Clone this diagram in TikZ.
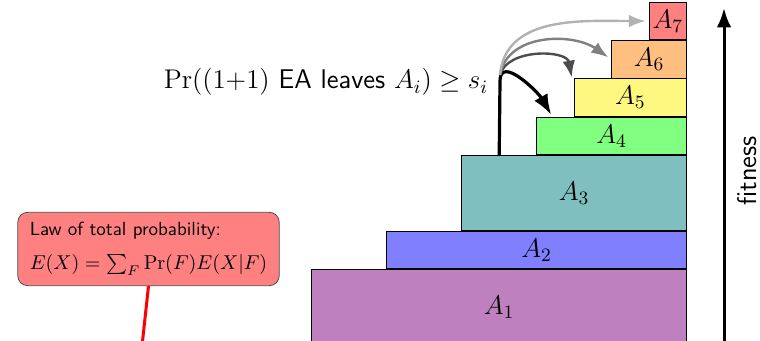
\RequirePackage{fix-cm}
\documentclass[tikz,border=0pt]{standalone}
\usepackage{tikz}
\usetikzlibrary{arrows.meta,positioning,calc}

\newcommand{\bigfont}{\fontsize{13.5}{16}\selectfont}

\begin{document}
\begin{tikzpicture}[
x=0.5pt, y=0.5pt,
level/.style={draw, anchor=south east, inner sep=0pt, font=\bigfont, minimum height=18.75pt},
leave/.style={-{Latex}, line width=1.2pt},
fitarr/.style={-{Latex}, line width=1.5pt},
note/.style={draw=black!70, fill=red!50, rounded corners=5pt, align=left, inner xsep=6pt, inner ysep=5pt}
]
\useasboundingbox (0,0) rectangle (760,341);
\clip (0,0) rectangle (760,341);

% fitness levels
\node[level, fill=violet!50, minimum width=187.5pt, minimum height=37.5pt] (A1) at (687,-4) {$A_1$};
\node[level, fill=blue!50, minimum width=150pt] (A2) at (A1.north east) {$A_2$};
\node[level, fill=teal!50, minimum width=112.5pt, minimum height=37.5pt] (A3) at (A2.north east) {$A_3$};
\node[level, fill=green!50, minimum width=75pt] (A4) at (A3.north east) {$A_4$};
\node[level, fill=yellow!50, minimum width=56.25pt] (A5) at (A4.north east) {$A_5$};
\node[level, fill=orange!50, minimum width=37.5pt] (A6) at (A5.north east) {$A_6$};
\node[level, fill=red!50, minimum width=18.75pt] (A7) at (A6.north east) {$A_7$};

% leaving A_i
\coordinate (base) at ($(A3.north west)+(38,0)$);
\coordinate (src) at (500,266);
\node[anchor=base east, font=\bigfont] (lbl) at (495,252) {$\Pr((1{+}1)$ \textsf{EA leaves} $A_i) \geq s_i$};
\draw[leave, line width=1.6pt] (base) -- (500,260) to[out=90, in=120, looseness=1.1] ($(A4.north west)+(15,2)$);
\draw[leave, black!70] (src) to[out=75, in=100] ($(A5.north west)+(-2,1)$);
\draw[leave, black!50] (src) to[out=80, in=145] ($(A6.west)+(-3,2)$);
\draw[leave, black!30] (src) to[out=85, in=180] ($(A7.west)+(-3,0)$);

% fitness axis
\coordinate (fb) at (724,-5);
\coordinate (ft) at (724,333);
\draw[fitarr] (fb) -- (ft);
\node[rotate=90, font=\bigfont\sffamily] (fitlbl) at (747,170) {fitness};

% law of total probability
\node[note] (ltp) at (148.5,92) {{\fontsize{9.5}{11}\selectfont\sffamily Law of total probability:}\\[5pt]
  {\fontsize{10}{12}\selectfont $E(X)=\sum_F \Pr(F)E(X|F)$}};
\coordinate (rt) at (142,-5);
\draw[red, line width=1.5pt] (ltp.south) -- (rt);
\end{tikzpicture}
\end{document}
